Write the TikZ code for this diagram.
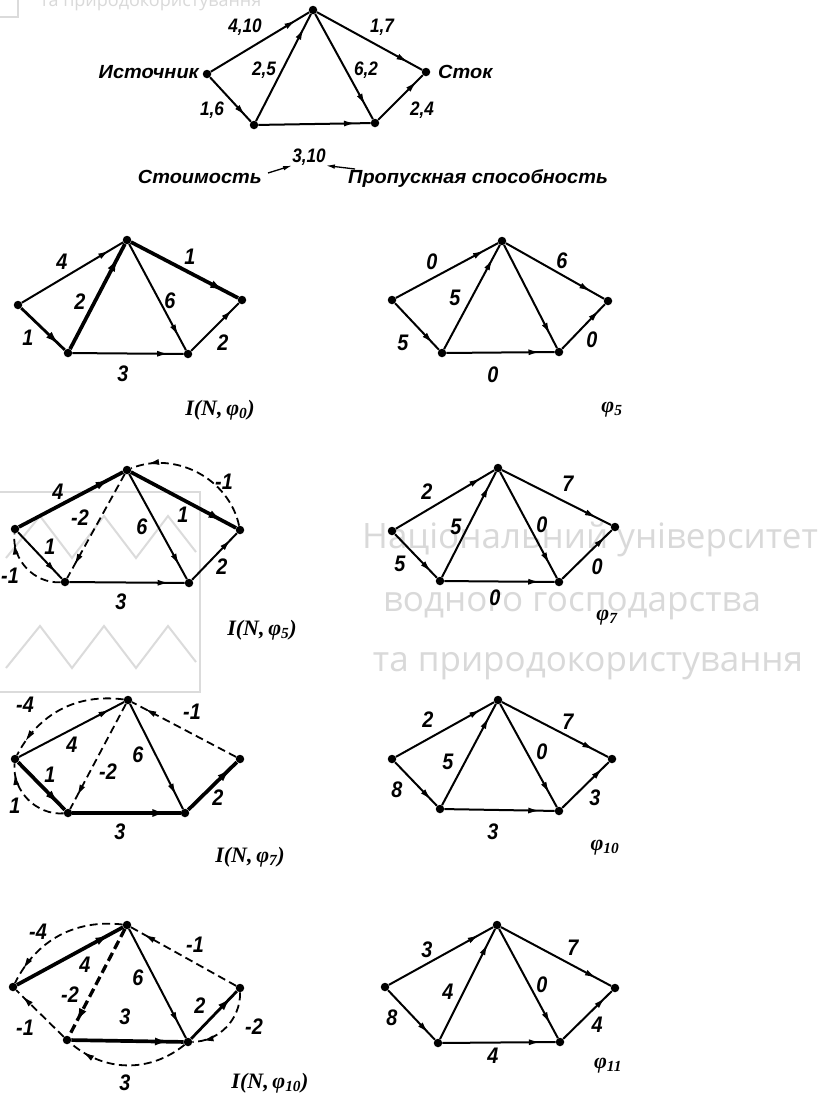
\documentclass[tikz,border=0pt]{standalone}
\usepackage{fontspec}
\setmainfont{Liberation Sans}
\newfontfamily\labfont{Liberation Sans}[FakeStretch=0.88]
\newfontfamily\wordfont{Liberation Sans}[FakeStretch=1.05]
\newfontfamily\serfont{Liberation Serif}
\newfontfamily\wmfont{Open Sans}
\usetikzlibrary{arrows.meta,decorations.markings}

\tikzset{
 v/.style={circle,fill=black,inner sep=0pt,minimum size=8.5pt},
 lbl/.style={font=\labfont\bfseries\itshape\fontsize{22.5}{22.5}\selectfont,inner sep=0pt},
 tlbl/.style={font=\labfont\bfseries\itshape\fontsize{19.5}{19.5}\selectfont,inner sep=0pt},
 wlbl/.style={font=\wordfont\bfseries\itshape\fontsize{19}{19}\selectfont,inner sep=0pt},
 ilbl/.style={font=\serfont\bfseries\itshape\fontsize{22}{22}\selectfont,inner sep=0pt},
 wm/.style={font=\wmfont\fontsize{35}{35}\selectfont,text=black!15,inner sep=0pt},
 wmline/.style={draw=black!14,line width=2pt},
 arrs/.style={postaction={decorate},decoration={markings,mark=at position #1 with {\arrow{Latex[length=12pt,width=6pt]}}}},
 arrs/.default=0.87,
 arrb/.style={postaction={decorate},decoration={markings,mark=at position #1 with {\arrow{Latex[length=14pt,width=8pt]}}}},
 arrb/.default=0.87,
 e/.style={line width=2pt,arrs},
 em/.style={line width=2.8pt,arrb},
 eb/.style={line width=3.7pt,arrb},
 de/.style={line width=1.8pt,dash pattern=on 8pt off 4.5pt,arrs=#1},
 de/.default=0.88,
 deb/.style={line width=3.3pt,dash pattern=on 9pt off 4.5pt,arrb},
 pl/.style={-{Latex[length=9pt,width=4.5pt]},line width=1.3pt},
}

\newcommand\mkverts[6]{%
 \node[v] (#1s) at #2 {}; \node[v] (#1t) at #3 {}; \node[v] (#1k) at #4 {};
 \node[v] (#1a) at #5 {}; \node[v] (#1b) at #6 {};}
\newcommand\allflow[1]{%
 \draw[e] (#1s) -- (#1t); \draw[e] (#1s) -- (#1a); \draw[e] (#1a) -- (#1t);
 \draw[e] (#1t) -- (#1b); \draw[e] (#1t) -- (#1k); \draw[e] (#1a) -- (#1b);
 \draw[e] (#1b) -- (#1k);}
\newcommand\elab[3]{\node[lbl] (#1) at #2 {#3};}

\begin{document}
\begin{tikzpicture}[x=1pt,y=-1pt]
\useasboundingbox (0,0) rectangle (823,1101);
\fill[white] (0,0) rectangle (823,1101);
\clip (0,0) rectangle (823,1101);

% ---------- watermark ----------
\draw[wmline] (0,17) -- (18,17) -- (18,0);
\node[wm,font=\wmfont\fontsize{18}{18}\selectfont,anchor=base west] (wm0) at (40,6) {та природокористування};
\draw[wmline] (-2,492) -- (200,492) -- (200,692) -- (-2,692);
\draw[wmline] (6,558) -- (40,516) -- (72,558) -- (104,516) -- (136,558) -- (168,516) -- (196,552);
\draw[wmline] (6,668) -- (40,626) -- (72,668) -- (104,626) -- (136,668) -- (168,626) -- (196,662);
\node[wm,anchor=base] (wm1) at (590,548) {Національний університет};
\node[wm,anchor=base] (wm2) at (572,611) {водного господарства};
\node[wm,anchor=base] (wm3) at (588,671) {та природокористування};

% ---------- top graph ----------
\mkverts{o}{(207,74)}{(313,10)}{(426,72)}{(254,125)}{(375,123)}
\allflow{o}
\node[tlbl] (o1) at (245,27) {4,10};
\node[tlbl] (o2) at (382,27) {1,7};
\node[tlbl] (o3) at (264,70) {2,5};
\node[tlbl] (o4) at (366,70) {6,2};
\node[tlbl] (o5) at (212,110) {1,6};
\node[tlbl] (o6) at (422,110) {2,4};
\node[wlbl,anchor=east] (src) at (199,72) {Источник};
\node[wlbl,anchor=west] (snk) at (438,72) {Сток};
\node[tlbl] (c310) at (309,157) {3,10};
\node[wlbl,anchor=east] (cost) at (262,177) {Стоимость};
\node[wlbl,anchor=west] (capy) at (348,178) {Пропускная способность};
\coordinate (ca1) at (268,173);
\coordinate (ca2) at (355,169);
\draw[pl] (ca1) -- (c310.south west);
\draw[pl] (ca2) -- (c310.south east);

% ---------- I(N,phi0) ----------
\mkverts{b}{(18,305)}{(127,240)}{(242,300)}{(68,353)}{(188,354)}
\draw[e] (bs) -- (bt);
\draw[em] (bs) -- (ba);
\draw[eb] (ba) -- (bt);
\draw[e] (bt) -- (bb);
\draw[eb] (bt) -- (bk);
\draw[e] (ba) -- (bb);
\draw[e] (bb) -- (bk);
\elab{b1}{(62,262)}{4}
\elab{b2}{(190,257)}{1}
\elab{b3}{(80,302)}{2}
\elab{b4}{(170,301)}{6}
\elab{b5}{(28,338)}{1}
\elab{b6}{(223,343)}{2}
\elab{b7}{(123,374)}{3}
\node[ilbl] (bn) at (220,410) {I(N,\,φ\textsubscript{0})};

% ---------- phi5 ----------
\mkverts{p}{(392,300)}{(502,241)}{(608,301)}{(442,353)}{(559,352)}
\allflow{p}
\elab{p1}{(432,262)}{0}
\elab{p2}{(562,261)}{6}
\elab{p3}{(455,298)}{5}
\elab{p4}{(403,343)}{5}
\elab{p5}{(592,340)}{0}
\elab{p6}{(493,375)}{0}
\node[ilbl] (pn) at (612,410) {φ\textsubscript{5}};

% ---------- I(N,phi5) ----------
\mkverts{c}{(15,529)}{(127,470)}{(240,530)}{(65,582)}{(189,583)}
\draw[eb] (cs) -- (ct);
\draw[e] (cs) -- (ca);
\draw[de] (ca) to[bend left=50] (cs);
\draw[de] (ct) -- (ca);
\draw[e] (ct) -- (cb);
\draw[eb] (ct) -- (ck);
\draw[de] (ck) to[bend right=50] (ct);
\draw[e] (ca) -- (cb);
\draw[e] (cb) -- (ck);
\elab{c1}{(58,492)}{4}
\elab{c2}{(80,518)}{-2}
\elab{c3}{(142,527)}{6}
\elab{c4}{(183,515)}{1}
\elab{c5}{(224,482)}{-1}
\elab{c6}{(50,547)}{1}
\elab{c7}{(10,576)}{-1}
\elab{c8}{(222,567)}{2}
\elab{c9}{(121,602)}{3}
\node[ilbl] (cn) at (262,630) {I(N,\,φ\textsubscript{5})};

% ---------- phi7 ----------
\mkverts{q}{(392,531)}{(498,468)}{(615,527)}{(440,581)}{(559,582)}
\allflow{q}
\elab{q1}{(427,492)}{2}
\elab{q2}{(568,484)}{7}
\elab{q3}{(456,527)}{5}
\elab{q4}{(542,525)}{0}
\elab{q5}{(400,564)}{5}
\elab{q6}{(597,567)}{0}
\elab{q7}{(495,598)}{0}
\node[ilbl] (qn) at (607,618) {φ\textsubscript{7}};

% ---------- I(N,phi7) ----------
\mkverts{d}{(15,759)}{(128,700)}{(240,759)}{(68,813)}{(185,813)}
\draw[e] (ds) -- (dt);
\draw[de] (dt) to[bend right=35] (ds);
\draw[eb] (ds) -- (da);
\draw[de] (da) to[bend left=50] (ds);
\draw[de] (dt) -- (da);
\draw[e] (dt) -- (db);
\draw[de] (dk) -- (dt);
\draw[eb] (da) -- (db);
\draw[eb] (db) -- (dk);
\elab{d1}{(25,705)}{-4}
\elab{d2}{(72,745)}{4}
\elab{d3}{(192,712)}{-1}
\elab{d4}{(50,775)}{1}
\elab{d5}{(108,772)}{-2}
\elab{d6}{(138,755)}{6}
\elab{d7}{(15,806)}{1}
\elab{d8}{(218,798)}{2}
\elab{d9}{(120,832)}{3}
\node[ilbl] (dn) at (250,857) {I(N,\,φ\textsubscript{7})};

% ---------- phi10 ----------
\mkverts{r}{(392,759)}{(498,700)}{(612,759)}{(440,809)}{(559,811)}
\allflow{r}
\elab{r1}{(428,720)}{2}
\elab{r2}{(568,722)}{7}
\elab{r3}{(448,762)}{5}
\elab{r4}{(542,752)}{0}
\elab{r5}{(397,790)}{8}
\elab{r6}{(595,798)}{3}
\elab{r7}{(493,832)}{3}
\node[ilbl] (rn) at (605,848) {φ\textsubscript{10}};

% ---------- I(N,phi10) ----------
\mkverts{g}{(13,987)}{(127,925)}{(240,988)}{(67,1040)}{(188,1042)}
\draw[eb] (gs) -- (gt);
\draw[de] (gt) to[bend right=35] (gs);
\draw[de] (ga) -- (gs);
\draw[deb] (gt) -- (ga);
\draw[e] (gt) -- (gb);
\draw[de] (gk) -- (gt);
\draw[eb] (ga) -- (gb);
\draw[de] (gb) to[bend left=40] (ga);
\draw[em] (gb) -- (gk);
\draw[de] (gk) to[bend left=45] (gb);
\elab{g1}{(38,932)}{-4}
\elab{g2}{(85,965)}{4}
\elab{g3}{(70,995)}{-2}
\elab{g4}{(138,978)}{6}
\elab{g5}{(195,945)}{-1}
\elab{g6}{(200,1006)}{2}
\elab{g7}{(254,1027)}{-2}
\elab{g8}{(125,1017)}{3}
\elab{g9}{(25,1028)}{-1}
\elab{g10}{(125,1083)}{3}
\node[ilbl] (gn) at (270,1083) {I(N,\,φ\textsubscript{10})};

% ---------- phi11 ----------
\mkverts{h}{(385,987)}{(497,925)}{(615,988)}{(438,1043)}{(560,1042)}
\allflow{h}
\elab{h1}{(427,950)}{3}
\elab{h2}{(573,948)}{7}
\elab{h3}{(448,992)}{4}
\elab{h4}{(542,985)}{0}
\elab{h5}{(392,1018)}{8}
\elab{h6}{(597,1025)}{4}
\elab{h7}{(493,1056)}{4}
\node[ilbl] (hn) at (608,1066) {φ\textsubscript{11}};
\end{tikzpicture}
\end{document}
